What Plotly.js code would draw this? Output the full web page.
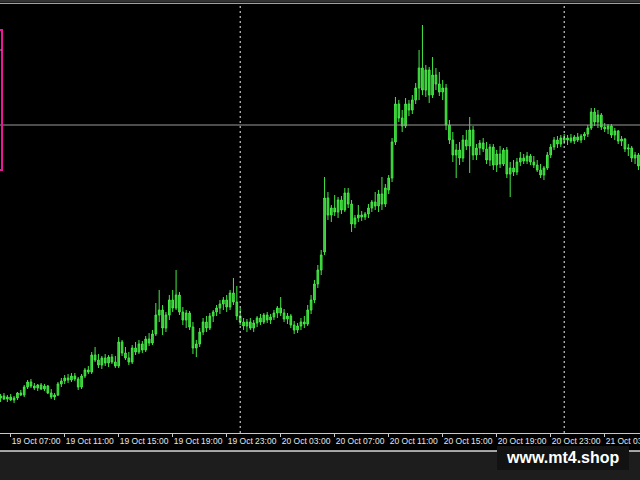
<!DOCTYPE html>
<html>
<head>
<meta charset="utf-8">
<script src="https://cdn.plot.ly/plotly-3.0.1.min.js"></script>
<style>html,body{margin:0;padding:0;background:#000;}#chart{width:640px;height:480px;}</style>
</head>
<body>
<div id="chart"></div>
<script>
// M15 candles, first candle 2023-10-19 06:15, one every 15 minutes
const startTime = Date.UTC(2023, 9, 19, 6, 15);
const stepMinutes = 15;

const openVals = [42,44,41,43,40,42,47,45,53,58, 54,52,55,51,54,47,43,45,56,59,
  62,60,64,61,53,64,70,68,85,80, 75,82,77,83,78,74,98,87,82,78,
  92,88,96,90,101,97,106,125,130,112, 125,140,132,145,128,120,127,113,92,96,
  108,118,112,124,128,132,136,140,133,147, 138,124,118,114,118,112,117,122,118,125,
  120,123,127,132,127,121,124,115,110,114, 118,116,130,140,156,170,188,242,225,232,
  228,240,230,247,236,216,222,225,223,226, 232,238,234,246,236,250,262,298,336,322,
  314,336,330,340,352,372,350,370,345,365, 356,348,352,315,300,285,290,282,300,294,
  310,285,292,297,291,280,293,275,286,276, 290,266,272,268,278,282,279,284,278,275,
  270,265,272,285,293,300,296,302,300,302, 299,303,300,304,306,312,328,318,325,313,
  311,314,305,309,299,301,291,292,282,285];
const highVals = [46,47,45,46,44,48,50,55,60,61, 57,56,57,56,55,51,47,58,62,65,
  66,67,67,63,66,72,74,88,93,86, 84,86,85,86,84,103,100,93,88,95,
  98,100,99,104,107,110,137,150,135,128, 145,150,170,148,133,130,129,118,100,112,
  122,124,127,130,135,140,143,145,150,162, 154,132,122,121,122,120,124,126,127,128,
  126,130,134,143,131,127,126,119,117,122, 124,135,145,160,175,190,263,248,235,245,
  243,244,252,252,240,225,235,229,228,236, 240,248,250,263,256,265,302,343,340,330,
  342,340,345,357,390,415,375,373,383,372, 368,360,356,320,308,296,298,305,310,323,
  314,296,300,302,298,296,296,290,294,292, 293,278,280,282,288,286,288,286,284,280,
  276,274,288,296,303,304,305,306,305,306, 305,307,306,308,315,332,332,330,327,317,
  316,316,312,310,304,302,296,294,288,287];
const lowVals = [38,40,38,39,37,40,44,43,51,52, 50,49,50,49,46,41,40,44,53,56,
  57,58,59,50,51,62,66,66,78,72, 71,74,73,76,72,72,84,80,75,76,
  85,86,87,88,94,95,104,118,105,108, 120,128,130,125,115,112,110,86,83,93,
  105,108,110,118,124,126,130,128,130,135, 120,115,110,108,110,108,113,115,116,117,
  116,120,122,124,118,116,112,106,107,110, 112,114,126,137,152,165,185,220,218,224,
  222,226,228,232,208,212,218,219,220,222, 228,230,228,230,233,246,258,295,318,308,
  312,324,326,336,340,345,343,337,342,350, 344,340,310,296,278,262,275,278,290,267,
  280,280,285,288,276,274,270,268,272,274, 262,243,264,265,274,276,276,275,272,268,
  262,260,270,282,290,292,293,296,295,297, 296,298,297,300,303,310,314,312,310,308,
  306,302,300,296,294,288,284,278,276,270];
const closeVals = [44,41,43,40,42,47,45,53,58,54, 52,55,51,54,47,43,45,56,59,62,
  60,64,61,53,64,70,68,85,80,75, 82,77,83,78,74,98,87,82,78,92,
  88,96,90,101,97,106,125,130,112,125, 140,132,145,128,120,127,113,92,96,108,
  118,112,124,128,132,136,140,133,147,138, 124,118,114,118,112,117,122,118,125,120,
  123,127,132,127,121,124,115,110,114,118, 116,130,140,156,170,185,242,225,232,228,
  240,230,247,236,216,222,225,223,226,232, 238,234,246,236,252,262,298,336,322,314,
  336,330,340,352,372,350,370,345,365,356, 348,352,315,300,285,290,282,300,294,310,
  285,292,297,291,280,293,275,286,276,290, 266,272,268,278,282,279,284,278,275,270,
  265,272,285,293,300,296,302,300,302,299, 303,300,304,306,312,328,318,325,313,311,
  314,305,309,299,301,291,292,282,285,274];

const tickTimes = ['2023-10-19 07:00','2023-10-19 11:00','2023-10-19 15:00','2023-10-19 19:00',
  '2023-10-19 23:00','2023-10-20 03:00','2023-10-20 07:00','2023-10-20 11:00',
  '2023-10-20 15:00','2023-10-20 19:00','2023-10-20 23:00','2023-10-21 03:00'];
const tickLabels = ['19 Oct 07:00','19 Oct 11:00','19 Oct 15:00','19 Oct 19:00',
  '19 Oct 23:00','20 Oct 03:00','20 Oct 07:00','20 Oct 11:00',
  '20 Oct 15:00','20 Oct 19:00','20 Oct 23:00','21 Oct 03:00'];
const daySeparators = ['2023-10-20 00:00','2023-10-21 00:00'];
const hLineLevel = 315;
const boxTop = 410, boxBottom = 270, boxInner = 390;

const times = closeVals.map((_, i) =>
  new Date(startTime + i * stepMinutes * 60000).toISOString().slice(0, 16).replace('T', ' '));

const H = 428; // plot height in px
const py = p => (433 - p) / H; // page pixel -> paper y

const trace = {
  type: 'candlestick',
  x: times, open: openVals, high: highVals, low: lowVals, close: closeVals,
  increasing: {line: {color: '#44e844', width: 1}, fillcolor: '#36c236'},
  decreasing: {line: {color: '#44e844', width: 1}, fillcolor: '#36c236'},
  whiskerwidth: 0, hoverinfo: 'skip', showlegend: false
};

const shapes = [];
daySeparators.forEach(d => shapes.push({type: 'line', xref: 'x', yref: 'paper', x0: d, x1: d, y0: 0, y1: 1,
  line: {color: '#f0f0f0', width: 1, dash: '2px,3px'}}));
shapes.push({type: 'line', xref: 'paper', yref: 'y', x0: 0, x1: 1, y0: hLineLevel, y1: hLineLevel,
  line: {color: '#9a9a9a', width: 1}});
shapes.push({type: 'rect', xref: 'paper', yref: 'y', x0: -0.05, x1: 2/640, y0: boxBottom, y1: boxTop,
  line: {color: '#e8179a', width: 2}, fillcolor: 'rgba(0,0,0,0)'});
shapes.push({type: 'line', xref: 'paper', yref: 'y', x0: -0.05, x1: 2/640, y0: boxInner, y1: boxInner,
  line: {color: '#f060b8', width: 1}});
// top border
shapes.push({type: 'rect', xref: 'paper', yref: 'paper', x0: 0, x1: 1, y0: py(0), y1: py(2.5),
  line: {width: 0}, fillcolor: '#333333'});
shapes.push({type: 'line', xref: 'paper', yref: 'paper', x0: 0, x1: 1, y0: py(3.5), y1: py(3.5),
  line: {color: '#a0a0a0', width: 1}});
// bottom window area
shapes.push({type: 'rect', xref: 'paper', yref: 'paper', x0: 0, x1: 1, y0: py(480), y1: py(451),
  line: {width: 0}, fillcolor: '#1d1d1d'});
shapes.push({type: 'line', xref: 'paper', yref: 'paper', x0: 0, x1: 1, y0: py(451), y1: py(451),
  line: {color: '#d8d8d8', width: 1.5}});
shapes.push({type: 'rect', xref: 'paper', yref: 'paper', x0: 497/640, x1: 629/640, y0: py(470), y1: py(446),
  line: {width: 0}, fillcolor: '#121212'});

const layout = {
  width: 640, height: 480,
  margin: {l: 0, r: 0, t: 5, b: 47, pad: 0},
  paper_bgcolor: '#000000', plot_bgcolor: '#000000',
  showlegend: false,
  xaxis: {
    type: 'date',
    range: ['2023-10-19 06:12:25', '2023-10-21 05:36:55'],
    rangeslider: {visible: false},
    showgrid: false, zeroline: false,
    showline: true, linecolor: '#c8c8c8', linewidth: 1,
    ticks: 'outside', ticklen: 3, tickcolor: '#c8c8c8', tickwidth: 1,
    tickmode: 'array', tickvals: tickTimes, ticktext: tickLabels,
    ticklabelposition: 'outside right', ticklabeloverflow: 'allow', tickangle: 0, automargin: false,
    tickfont: {family: 'Liberation Sans, Arial, sans-serif', size: 8.5, color: '#e6e6e6'},
    fixedrange: true
  },
  yaxis: {
    range: [7, 435], showgrid: false, zeroline: false, showline: false,
    showticklabels: false, ticks: '', fixedrange: true
  },
  shapes: shapes,
  annotations: [
    {xref: 'paper', yref: 'paper', x: 2/640, y: py(441), xanchor: 'right', yanchor: 'middle',
     text: '19 Oct 03:00', showarrow: false,
     font: {family: 'Liberation Sans, Arial, sans-serif', size: 8.5, color: '#e6e6e6'}},
    {xref: 'paper', yref: 'paper', x: 563/640, y: py(457), xanchor: 'center', yanchor: 'middle',
     text: '<b>www.mt4.shop</b>', showarrow: false,
     font: {family: 'Liberation Sans, Arial, sans-serif', size: 16, color: '#ffffff'}}
  ]
};

Plotly.newPlot('chart', [trace], layout, {staticPlot: true, displayModeBar: false});
</script>
</body>
</html>
